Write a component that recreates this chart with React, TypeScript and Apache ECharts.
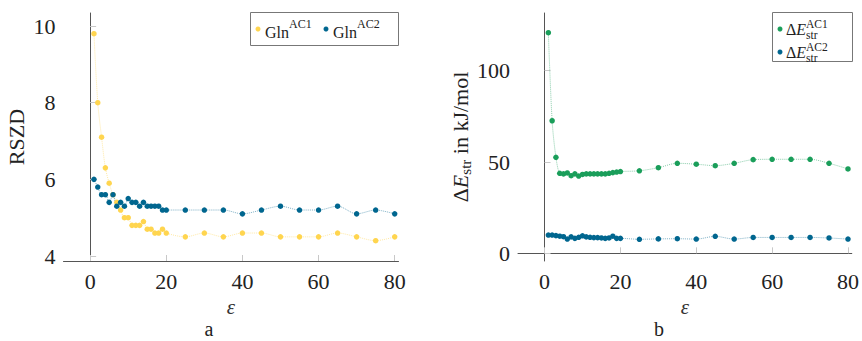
import React, { useEffect, useRef } from "react";
import * as echarts from "echarts";

// epsilon values (x)
const eps = [1, 2, 3, 4, 5, 6, 7, 8, 9, 10, 11, 12, 13, 14, 15, 16, 17, 18, 19, 20, 25, 30, 35, 40, 45, 50, 55, 60, 65, 70, 75, 80];

// Panel a: RSZD
const rszdAC1 = [9.8, 8.0, 7.1, 6.3, 5.9, 5.6, 5.4, 5.2, 5.0, 5.0, 4.8, 4.8, 4.8, 4.9, 4.7, 4.7, 4.6, 4.6, 4.7, 4.6, 4.5, 4.6, 4.5, 4.6, 4.6, 4.5, 4.5, 4.5, 4.6, 4.5, 4.4, 4.5];
const rszdAC2 = [6.0, 5.8, 5.6, 5.6, 5.4, 5.6, 5.3, 5.4, 5.3, 5.5, 5.4, 5.4, 5.3, 5.4, 5.3, 5.3, 5.3, 5.3, 5.2, 5.2, 5.2, 5.2, 5.2, 5.1, 5.2, 5.3, 5.2, 5.2, 5.3, 5.1, 5.2, 5.1];

// Panel b: strain energy (kJ/mol)
const estrAC1 = [120.8, 72.6, 52.6, 43.8, 43.5, 44.0, 42.5, 43.5, 42.3, 43.2, 43.5, 43.5, 43.5, 43.5, 43.5, 43.5, 43.8, 44.2, 44.5, 44.8, 45.2, 46.9, 49.3, 48.8, 48.0, 49.3, 51.3, 51.5, 51.5, 51.5, 49.3, 46.2];
const estrAC2 = [10.0, 10.0, 9.7, 9.4, 9.1, 7.8, 9.0, 8.2, 8.8, 9.6, 9.0, 8.8, 8.6, 8.6, 8.4, 8.2, 8.4, 9.4, 8.2, 8.2, 7.7, 7.9, 8.0, 7.8, 9.3, 7.8, 8.7, 8.7, 8.7, 8.7, 8.4, 7.8];

// tick labels
const xTicks = [0, 20, 40, 60, 80];
const yTicksA = [4, 6, 8, 10];
const yTicksB = [0, 50, 100];

const YELLOW = "#FFD54F";
const BLUE = "#00668F";
const GREEN = "#1A9E5A";
const SERIF = "Liberation Serif";

const pairs = (ys: number[]) => eps.map((x, i) => [x, ys[i]]);

function xAxisCfg(gridIndex: number) {
  return {
    type: "value",
    gridIndex,
    min: -7,
    max: 81,
    name: "ε",
    nameLocation: "middle",
    nameGap: 33,
    nameTextStyle: { fontFamily: SERIF, fontSize: 21, fontStyle: "italic", color: "#333" },
    axisLine: { show: true, lineStyle: { color: "#555", width: 1 } },
    axisTick: { show: true, inside: true, length: 6, customValues: xTicks, lineStyle: { color: "#c8c8c8" } },
    axisLabel: { customValues: xTicks, fontFamily: SERIF, fontSize: 22, color: "#222", margin: 9 },
    splitLine: { show: false },
  };
}

function seriesCfg(name: string, data: number[], color: string, idx: number) {
  return {
    type: "line",
    name,
    xAxisIndex: idx,
    yAxisIndex: idx,
    data: pairs(data),
    symbol: "circle",
    symbolSize: 5.5,
    smooth: 0.3,
    itemStyle: { color },
    lineStyle: { color, width: 1, type: "dotted", opacity: 0.5 },
    z: 3,
  };
}

export default function App() {
  const ref = useRef<HTMLDivElement>(null);
  useEffect(() => {
    if (!ref.current) return;
    const chart = echarts.init(ref.current, undefined, { renderer: "svg" });
    const lt = { fontFamily: SERIF, fill: "#222" };
    const deltaE = (y: number) => ({
      type: "text", x: 786, y, z: 11,
      style: {
        text: "{d|Δ}{e|E}", verticalAlign: "middle", fontFamily: SERIF,
        rich: {
          d: { ...lt, fontSize: 16, lineHeight: 14 },
          e: { ...lt, fontSize: 16, lineHeight: 14, fontStyle: "italic" },
        },
      },
    });
    const supSub = (y: number, sup: string) => ({
      type: "text", x: 806, y, z: 11,
      style: { ...lt, text: sup + "\nstr", fontSize: 11.5, lineHeight: 11, verticalAlign: "middle" },
    });
    const option: any = {
      animation: false,
      backgroundColor: "#fff",
      textStyle: { fontFamily: SERIF },
      grid: [
        { left: 63.5, top: 13, width: 335, height: 248 },
        { left: 518, top: 13, width: 335, height: 248 },
      ],
      xAxis: [xAxisCfg(0), xAxisCfg(1)],
      yAxis: [
        {
          type: "value",
          gridIndex: 0,
          min: 3.87,
          max: 10.34,
          name: "RSZD",
          nameLocation: "middle",
          nameRotate: 90,
          nameGap: 36,
          nameTextStyle: { fontFamily: SERIF, fontSize: 22, color: "#222" },
          axisLine: { show: true, lineStyle: { color: "#555", width: 1 } },
          axisTick: { show: true, inside: true, length: 6, customValues: yTicksA, lineStyle: { color: "#c8c8c8" } },
          axisLabel: { customValues: yTicksA, fontFamily: SERIF, fontSize: 22, color: "#222", margin: 8 },
          splitLine: { show: false },
        },
        {
          type: "value",
          gridIndex: 1,
          min: -4.2,
          max: 131.6,
          name: "{d|Δ}{e|E}{s|str}{n| in kJ/mol}",
          nameLocation: "middle",
          nameRotate: 90,
          nameGap: 44,
          nameTextStyle: {
            fontFamily: SERIF,
            fontSize: 22,
            color: "#222",
            rich: {
              d: { fontFamily: SERIF, fontSize: 22, color: "#222", lineHeight: 26, verticalAlign: "middle" },
              e: { fontFamily: SERIF, fontSize: 22, fontStyle: "italic", color: "#222", lineHeight: 26, verticalAlign: "middle" },
              s: { fontFamily: SERIF, fontSize: 15, color: "#222", lineHeight: 12, verticalAlign: "bottom" },
              n: { fontFamily: SERIF, fontSize: 22, color: "#222", lineHeight: 26, verticalAlign: "middle" },
            },
          },
          axisLine: { show: true, lineStyle: { color: "#555", width: 1 } },
          axisTick: { show: true, inside: true, length: 6, customValues: yTicksB, lineStyle: { color: "#c8c8c8" } },
          axisLabel: { customValues: yTicksB, fontFamily: SERIF, fontSize: 22, color: "#222", margin: 8 },
          splitLine: { show: false },
        },
      ],
      series: [
        seriesCfg("GlnAC1", rszdAC1, YELLOW, 0),
        seriesCfg("GlnAC2", rszdAC2, BLUE, 0),
        seriesCfg("ΔEstrAC1", estrAC1, GREEN, 1),
        seriesCfg("ΔEstrAC2", estrAC2, BLUE, 1),
      ],
      graphic: [
        // legend a
        { type: "rect", shape: { x: 250.5, y: 12.5, width: 148, height: 33 }, style: { fill: "#fff", stroke: "#777", lineWidth: 1 }, z: 10 },
        { type: "circle", shape: { cx: 258, cy: 29, r: 2.5 }, style: { fill: YELLOW }, z: 11 },
        {
          type: "text", x: 265, y: 29, z: 11,
          style: {
            text: "{b|Gln}{p|AC1}", verticalAlign: "middle", fontFamily: SERIF,
            rich: {
              b: { ...lt, fontSize: 16, lineHeight: 22, verticalAlign: "bottom" },
              p: { ...lt, fontSize: 12, lineHeight: 12, verticalAlign: "top" },
            },
          },
        },
        { type: "circle", shape: { cx: 326, cy: 29, r: 2.5 }, style: { fill: BLUE }, z: 11 },
        {
          type: "text", x: 333, y: 29, z: 11,
          style: {
            text: "{b|Gln}{p|AC2}", verticalAlign: "middle", fontFamily: SERIF,
            rich: {
              b: { ...lt, fontSize: 16, lineHeight: 22, verticalAlign: "bottom" },
              p: { ...lt, fontSize: 12, lineHeight: 12, verticalAlign: "top" },
            },
          },
        },
        // legend b
        { type: "rect", shape: { x: 772.5, y: 12.5, width: 80, height: 49 }, style: { fill: "#fff", stroke: "#777", lineWidth: 1 }, z: 10 },
        { type: "circle", shape: { cx: 780, cy: 29, r: 2.5 }, style: { fill: GREEN }, z: 11 },
        deltaE(29),
        supSub(29, "AC1"),
        { type: "circle", shape: { cx: 780, cy: 52, r: 2.5 }, style: { fill: BLUE }, z: 11 },
        deltaE(52),
        supSub(52, "AC2"),
        // panel labels
        { type: "text", x: 209, y: 329, style: { text: "a", fontFamily: SERIF, fontSize: 20, lineHeight: 18, fill: "#222", align: "center", verticalAlign: "middle" } },
        { type: "text", x: 659, y: 329, style: { text: "b", fontFamily: SERIF, fontSize: 20, lineHeight: 18, fill: "#222", align: "center", verticalAlign: "middle" } },
      ],
    };
    chart.setOption(option);
    return () => chart.dispose();
  }, []);
  return (
    <div
      ref={ref}
      style={{ position: "fixed", left: 0, top: 0, width: 862, height: 341, background: "#fff" }}
    />
  );
}
